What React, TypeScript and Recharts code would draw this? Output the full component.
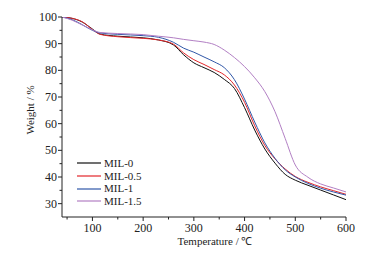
import React from "react";
import { LineChart, Line, XAxis, YAxis } from "recharts";

// Temperatures (℃) at which the TG curves are sampled
const temps = [40, 60, 80, 100, 115, 150, 200, 230, 260, 280, 300, 320, 340, 360, 380, 400, 420, 440, 460, 480, 500, 525, 550, 575, 600];

const mil0 = [100, 99.5, 98.1, 95.5, 93.6, 92.8, 92.2, 91.4, 89.5, 85.8, 82.8, 81.0, 79.2, 76.6, 73.2, 66.0, 57.6, 50.5, 45.2, 41.0, 38.8, 36.9, 35.1, 33.3, 31.5];
const mil05 = [100, 99.5, 98.2, 95.3, 93.5, 92.6, 92.0, 91.4, 89.8, 86.5, 84.0, 82.2, 80.3, 78.3, 74.5, 68.0, 59.2, 51.8, 46.8, 43.0, 40.2, 38.0, 36.3, 34.9, 33.5];
const mil1 = [100, 99.0, 97.1, 95.0, 94.0, 93.5, 93.0, 92.4, 90.5, 88.3, 86.8, 85.0, 83.2, 81.0, 76.5, 69.2, 60.6, 52.8, 47.0, 42.7, 40.0, 37.6, 35.8, 34.4, 33.2];
const mil15 = [100, 98.8, 97.0, 95.2, 94.2, 93.8, 93.4, 92.8, 92.2, 91.6, 91.1, 90.6, 89.7, 87.6, 84.8, 81.4, 77.2, 72.0, 64.5, 54.5, 44.5, 39.9, 37.4, 35.9, 34.4];

const xTicks = [50, 100, 150, 200, 250, 300, 350, 400, 450, 500, 550, 600];
const yTicks = [30, 35, 40, 45, 50, 55, 60, 65, 70, 75, 80, 85, 90, 95, 100];

const SERIES = [
  { key: "mil0", name: "MIL-0", color: "#111111" },
  { key: "mil05", name: "MIL-0.5", color: "#e3262a" },
  { key: "mil1", name: "MIL-1", color: "#3057a8" },
  { key: "mil15", name: "MIL-1.5", color: "#b27fc4" },
];

const data = temps.map((t, i) => ({ t, mil0: mil0[i], mil05: mil05[i], mil1: mil1[i], mil15: mil15[i] }));

const FONT = "Liberation Serif";
const txt = { fontFamily: FONT };

function XTick({ x, y, payload }: any) {
  const major = payload.value % 100 === 0;
  return (
    <g>
      <line x1={x} x2={x} y1={y} y2={y + (major ? 4 : 2.5)} stroke="#222" strokeWidth={1} />
      {major && (
        <text x={x} y={y + 15} textAnchor="middle" fontSize={12} style={txt} fill="#222">
          {payload.value}
        </text>
      )}
    </g>
  );
}

function YTick({ x, y, payload }: any) {
  const major = payload.value % 10 === 0;
  return (
    <g>
      <line x1={x - (major ? 4 : 2.5)} x2={x} y1={y} y2={y} stroke="#222" strokeWidth={1} />
      {major && (
        <text x={x - 5} y={y + 4} textAnchor="end" fontSize={12} style={txt} fill="#222">
          {payload.value}
        </text>
      )}
    </g>
  );
}

function LegendBox() {
  return (
    <div
      style={{
        position: "absolute",
        left: 77,
        top: 157,
        fontFamily: FONT,
        fontSize: 11,
        color: "#222",
        lineHeight: "12.7px",
      }}
    >
      {SERIES.map((s) => (
        <div key={s.key} style={{ display: "flex", alignItems: "center", height: 12.7 }}>
          <svg width={24} height={4} style={{ marginRight: 3 }}>
            <line x1={0} x2={24} y1={2} y2={2} stroke={s.color} strokeWidth={1.2} />
          </svg>
          <span>{s.name}</span>
        </div>
      ))}
    </div>
  );
}

export default function App() {
  return (
    <div style={{ position: "absolute", left: 0, top: 0, width: 370, height: 255, background: "#fff" }}>
      <LineChart width={370} height={255} data={data} margin={{ top: 17, right: 24, bottom: 8, left: 22 }}>
        <XAxis
          dataKey="t"
          type="number"
          domain={[40, 600]}
          ticks={xTicks}
          interval={0}
          tickSize={0}
          tickMargin={0}
          tickLine={false}
          tick={<XTick />}
          height={30}
          axisLine={{ stroke: "#222", strokeWidth: 1 }}
          allowDataOverflow
        />
        <YAxis
          type="number"
          domain={[25, 100]}
          ticks={yTicks}
          interval={0}
          tickSize={0}
          tickMargin={0}
          tickLine={false}
          tick={<YTick />}
          width={40}
          axisLine={{ stroke: "#222", strokeWidth: 1 }}
          allowDataOverflow
        />
        {SERIES.map((s) => (
          <Line
            key={s.key}
            type="monotone"
            dataKey={s.key}
            name={s.name}
            stroke={s.color}
            strokeWidth={1}
            dot={false}
            isAnimationActive={false}
          />
        ))}
        <text x={30} y={110} transform="rotate(-90 30 110)" textAnchor="middle" dominantBaseline="central" fontSize={11} style={txt} fill="#222">
          Weight / %
        </text>
        <text x={215} y={245} textAnchor="middle" fontSize={11} style={txt} fill="#222">
          Temperature / ℃
        </text>
      </LineChart>
      <LegendBox />
    </div>
  );
}
